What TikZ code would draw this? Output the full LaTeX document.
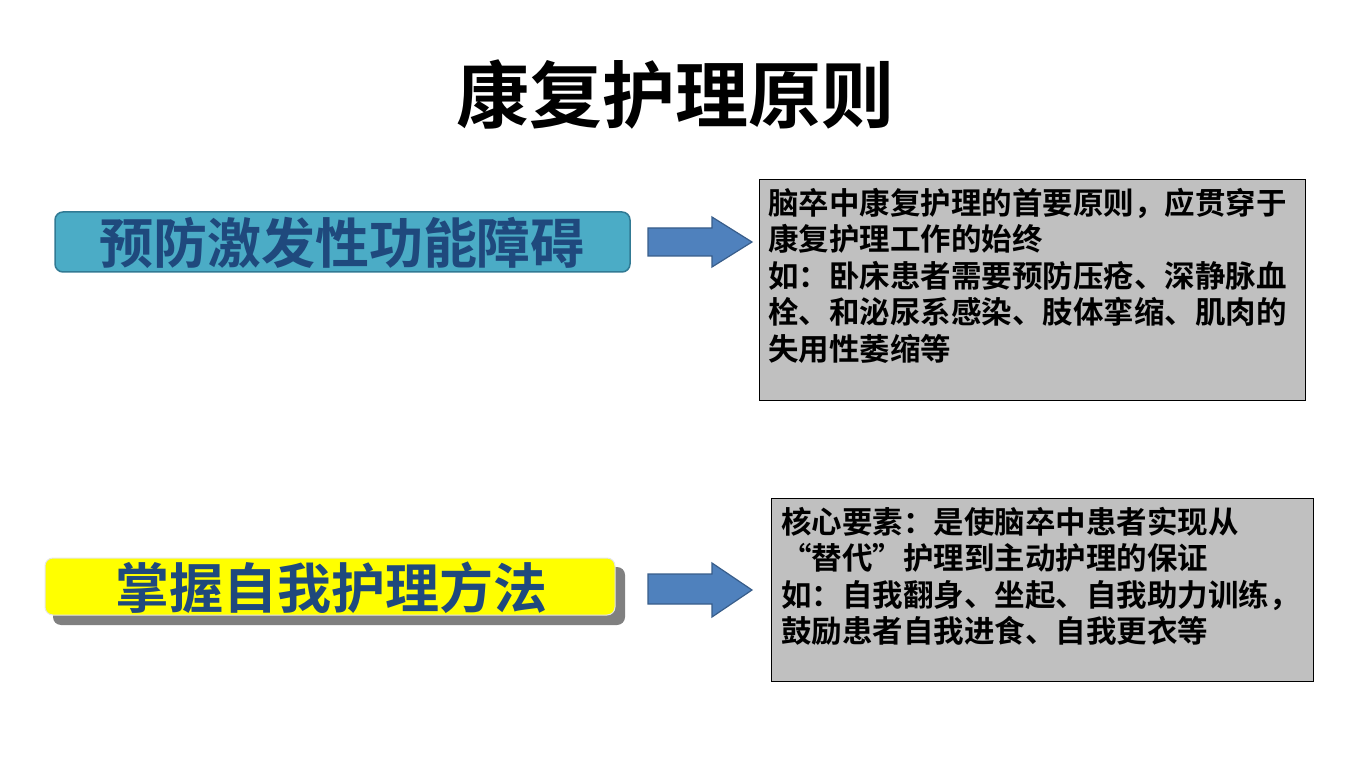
\documentclass[tikz,border=0pt]{standalone}
\usepackage{fontspec}
\setmainfont{Noto Sans CJK SC}[BoldFont={* Bold}]
\usetikzlibrary{shapes.arrows}
\definecolor{tealfill}{RGB}{75,172,198}
\definecolor{tealedge}{RGB}{49,122,148}
\definecolor{labelblue}{RGB}{31,73,125}
\definecolor{arrowfill}{RGB}{79,129,189}
\definecolor{arrowedge}{RGB}{56,93,138}
\definecolor{notegray}{RGB}{192,192,192}
\definecolor{shadowgray}{RGB}{128,128,128}
\definecolor{brightyellow}{RGB}{255,255,0}
\tikzset{
  labeltext/.style={font=\fontsize{54}{60}\selectfont\bfseries, text=labelblue, inner sep=0},
  notebox/.style={draw=black, line width=1pt, fill=notegray},
  notetext/.style={anchor=north west, inner sep=0, align=left, font=\fontsize{30.5}{36.5}\selectfont\bfseries, text=black},
  blockarrow/.style={draw=arrowedge, line width=1.2pt, fill=arrowfill},
}
\begin{document}
\begin{tikzpicture}[x=1pt,y=-1pt]
\useasboundingbox (0,0) rectangle (1350,759);
% title
\node[font=\fontsize{73}{80}\selectfont\bfseries, inner sep=0] (title) at (675,95) {康复护理原则};
% row 1
\draw[fill=tealfill, draw=tealedge, line width=1.5pt, rounded corners=8pt] (55,212) rectangle (630,272);
\node[labeltext] (lab1) at (342,243) {预防激发性功能障碍};
\draw[blockarrow] (648,228) -- (712,228) -- (712,217) -- (752,242) -- (712,267) -- (712,256) -- (648,256) -- cycle;
\draw[notebox] (759,180) rectangle (1305,400);
\node[notetext] (note1) at (768,188) {脑卒中康复护理的首要原则，应贯穿于\\康复护理工作的始终\\如：卧床患者需要预防压疮、深静脉血\\栓、和泌尿系感染、肢体挛缩、肌肉的\\失用性萎缩等};
% row 2
\fill[shadowgray, rounded corners=8pt] (53,567) rectangle (625,625);
\draw[fill=brightyellow, draw=white!90!black, line width=1pt, rounded corners=8pt] (45,558) rectangle (615,615);
\node[labeltext] (lab2) at (331,588) {掌握自我护理方法};
\draw[blockarrow] (648,574) -- (712,574) -- (712,563) -- (752,590) -- (712,617) -- (712,604) -- (648,604) -- cycle;
\draw[notebox] (771,498) rectangle (1313,681);
\node[notetext] (note2) at (781,507) {核心要素：是使脑卒中患者实现从\\“替代”护理到主动护理的保证\\如：自我翻身、坐起、自我助力训练，\\鼓励患者自我进食、自我更衣等};
\end{tikzpicture}
\end{document}
